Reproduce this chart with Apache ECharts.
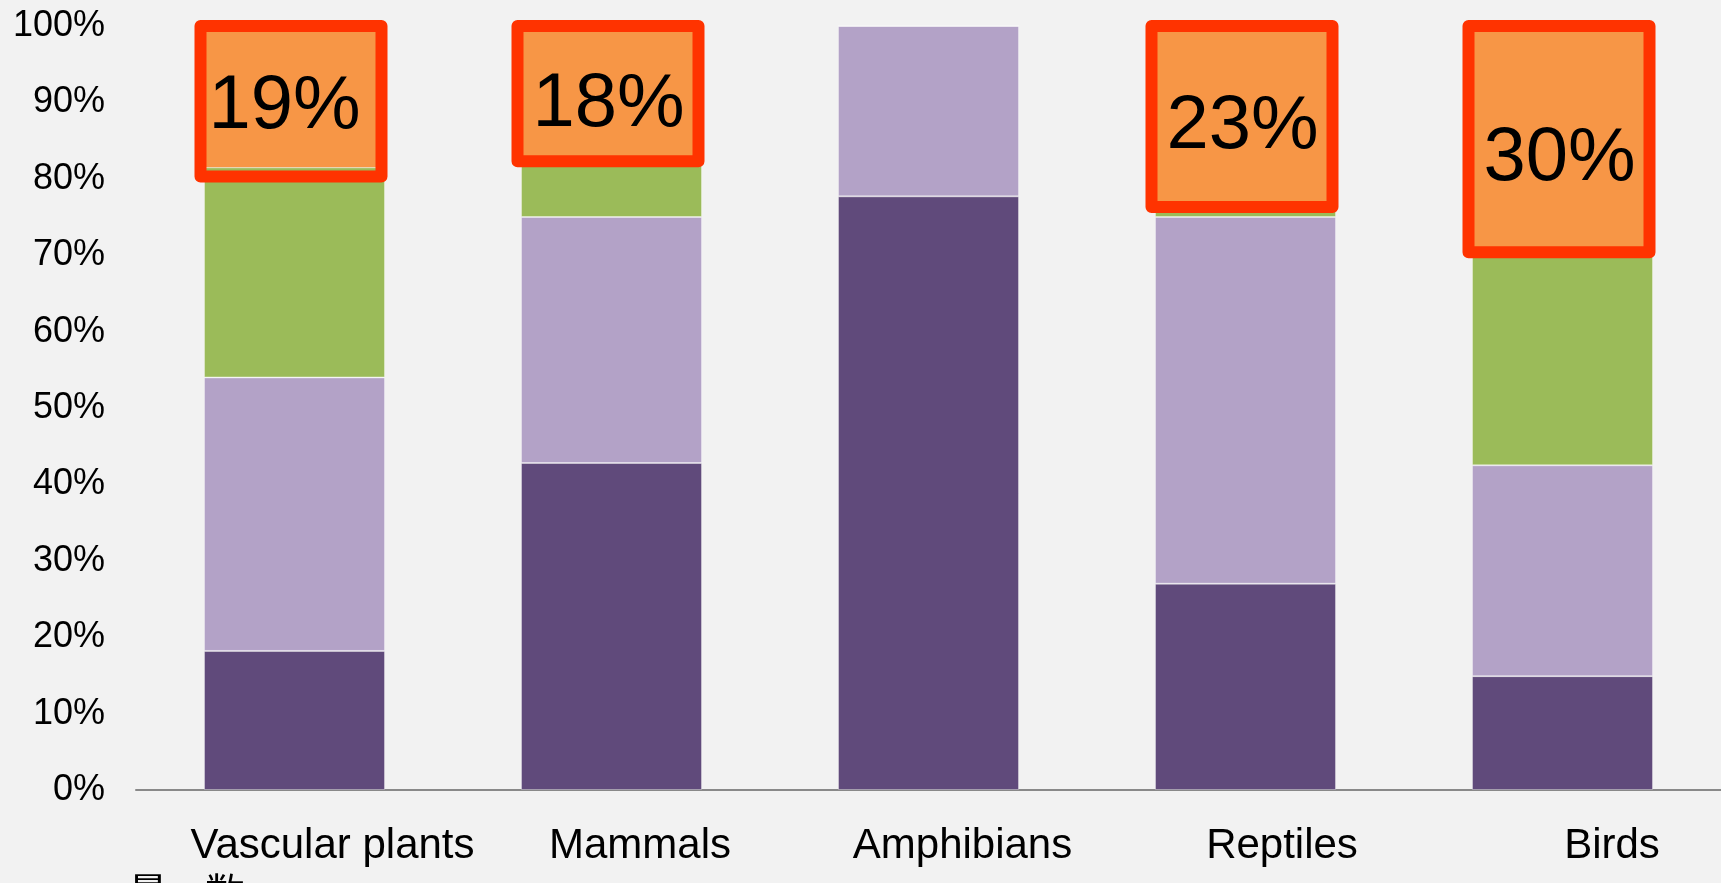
<!DOCTYPE html>
<html>
<head>
<meta charset="utf-8">
<style>
  html, body { margin: 0; padding: 0; background: #F2F2F2; }
  #chart { width: 1721px; height: 883px; }
</style>
<script src="https://cdn.jsdelivr.net/npm/echarts@6/dist/echarts.min.js"></script>
</head>
<body>
<div id="chart"></div>
<script>
const categories = ['Vascular plants', 'Mammals', 'Amphibians', 'Reptiles', 'Birds'];
const darkPurple = [18.2, 42.8, 77.7, 27.0, 14.9];
const lightPurple = [35.8, 32.2, 22.3, 48.0, 27.6];
const greenPart = [27.5, 7.0, 0, 2.0, 27.5];
const orangePart = [18.5, 18.0, 0, 23.0, 30.0];
const orangeLabels = ['19%', '18%', '', '23%', '30%'];
const boxBottoms = [80.3, 82.3, null, 76.3, 70.4];
const yTickValues = [0, 10, 20, 30, 40, 50, 60, 70, 80, 90, 100];
const footText = ['量', '数'];

// styling (label nudges), kept apart from the data
const catShift = [76, 57, 68, 73, 99];
const labelOffsets = [[-10, 10], [-3, 10], [0, 0], [-3, 13], [-3, 18]];

const rich = {};
catShift.forEach((p, i) => {
  rich['a' + i] = { fontSize: 42, color: '#000', fontFamily: 'Liberation Sans, Arial, sans-serif', padding: [0, 0, 0, p] };
});

const barW = '57.1%';
const segBorder = { borderColor: 'rgba(255,255,255,0.35)', borderWidth: 1 };

const boxData = [];
boxBottoms.forEach((b, i) => { if (b != null) boxData.push([i, b]); });

const orangeData = orangePart.map((v, i) => ({ value: v, label: { offset: labelOffsets[i] } }));

const chart = echarts.init(document.getElementById('chart'), null, { renderer: 'canvas' });
chart.setOption({
  backgroundColor: '#F2F2F2',
  animation: false,
  grid: { left: 136, right: 0, top: 26, bottom: 93, containLabel: false },
  xAxis: {
    type: 'category',
    data: categories,
    axisLine: { lineStyle: { color: '#898989', width: 2 } },
    axisTick: { show: false },
    axisLabel: {
      margin: 35,
      interval: 0,
      formatter: (v, i) => '{a' + i + '|' + v + '}',
      rich: rich
    }
  },
  yAxis: {
    type: 'value',
    min: yTickValues[0],
    max: yTickValues[yTickValues.length - 1],
    interval: 10,
    axisLine: { show: false },
    axisTick: { show: false },
    splitLine: { show: false },
    axisLabel: {
      formatter: '{value}%',
      margin: 31,
      fontSize: 36,
      color: '#000',
      fontFamily: 'Liberation Sans, Arial, sans-serif'
    }
  },
  series: [
    { name: 'dark', type: 'bar', stack: 's', barWidth: barW, data: darkPurple,
      itemStyle: Object.assign({ color: '#604A7B' }, segBorder) },
    { name: 'light', type: 'bar', stack: 's', barWidth: barW, data: lightPurple,
      itemStyle: Object.assign({ color: '#B3A2C7' }, segBorder) },
    { name: 'green', type: 'bar', stack: 's', barWidth: barW, data: greenPart,
      itemStyle: Object.assign({ color: '#9BBB59' }, segBorder) },
    { name: 'orange', type: 'bar', stack: 's', barWidth: barW, data: orangeData,
      itemStyle: { color: '#F79646' },
      label: {
        show: true, position: 'inside',
        formatter: (p) => orangeLabels[p.dataIndex],
        fontSize: 76, color: '#000',
        fontFamily: 'Liberation Sans, Arial, sans-serif'
      },
      z: 2 },
    { name: 'box', type: 'custom', data: boxData, z: 5, silent: true,
      renderItem: function (params, api) {
        const idx = api.value(0);
        const top = api.coord([idx, 100]);
        const bot = api.coord([idx, api.value(1)]);
        const band = api.size([1, 0])[0];
        const w = band * 0.571;
        return {
          type: 'rect',
          shape: { x: top[0] - w / 2 - 3.5, y: top[1], width: w, height: bot[1] - top[1] },
          style: { fill: null, stroke: '#FF3300', lineWidth: 12, lineJoin: 'round' }
        };
      }
    }
  ],
  graphic: [
    { type: 'text', left: 128, top: 872, style: { text: footText[0], fontSize: 40, fill: '#000', fontFamily: 'Noto Sans CJK SC' } },
    { type: 'text', left: 205, top: 872, style: { text: footText[1], fontSize: 40, fill: '#000', fontFamily: 'Noto Sans CJK SC' } }
  ]
});
</script>
</body>
</html>
